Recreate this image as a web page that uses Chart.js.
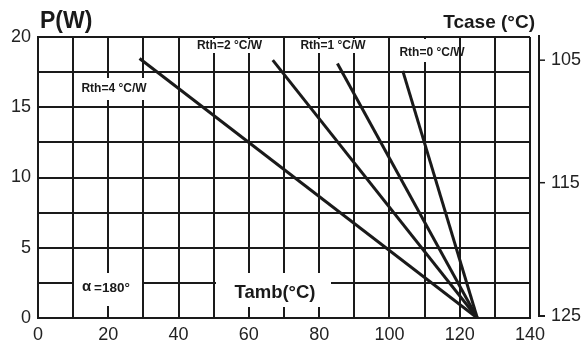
<!DOCTYPE html>
<html>
<head>
<meta charset="utf-8">
<script src="https://cdn.jsdelivr.net/npm/chart.js@4/dist/chart.umd.min.js"></script>
<style>
  html, body { margin: 0; padding: 0; background: #fff; }
  #wrap { width: 584px; height: 344px; position: relative; }
</style>
</head>
<body>
<div id="wrap"><canvas id="c" width="584" height="344"></canvas></div>
<script>
// ---- data ----
const seriesNames   = ['Rth=0 °C/W', 'Rth=1 °C/W', 'Rth=2 °C/W', 'Rth=4 °C/W'];
const startTamb     = [103.8, 85.2, 66.8, 28.9];   // °C
const startPower    = [17.59, 18.11, 18.35, 18.47]; // W
const endTamb       = [125, 125, 125, 125];
const endPower      = [0, 0, 0, 0];
const caseTickLabels = ['105', '115', '125'];
const caseTickPower  = [18.35, 9.63, 0.15];   // where the Tcase ticks sit on the power scale

const INK = '#1a1a1a';
const FONT = "'Liberation Sans', Arial, sans-serif";
Chart.defaults.font.family = FONT;
Chart.defaults.color = '#222';

const datasets = seriesNames.map((n, i) => ({
  label: n,
  data: [{ x: startTamb[i], y: startPower[i] }, { x: endTamb[i], y: endPower[i] }],
  borderColor: INK,
  borderWidth: 3,
  borderCapStyle: 'butt',
  pointRadius: 0,
  fill: false,
  tension: 0
}));

const notes = [
  { text: 'Rth=4 °C/W', box: [76, 78, 152, 100], cx: 114, cy: 89, size: 12 },
  { text: 'Rth=2 °C/W', box: [192, 39, 268, 53], cx: 229.5, cy: 46, size: 12 },
  { text: 'Rth=1 °C/W', box: [296, 39, 371, 53], cx: 333, cy: 46, size: 12 },
  { text: 'Rth=0 °C/W', box: [396, 39, 458, 62], cx: 432, cy: 53, size: 12 }
];

function noPad(s) { s.paddingTop = 0; s.paddingBottom = 0; s.paddingLeft = 0; s.paddingRight = 0; }

const decor = {
  id: 'decor',
  beforeDatasetsDraw(chart) {
    const ctx = chart.ctx;
    ctx.save();
    ctx.fillStyle = '#fff';
    notes.forEach(n => {
      const b = n.box;
      ctx.fillRect(b[0], b[1], b[2] - b[0], b[3] - b[1]);
    });
    ctx.fillRect(74, 273, 68, 33);
    ctx.fillRect(216, 273, 115, 34);

    ctx.fillStyle = INK;
    ctx.textBaseline = 'middle';
    ctx.textAlign = 'center';
    notes.forEach(n => {
      ctx.font = 'bold ' + n.size + 'px ' + FONT;
      ctx.fillText(n.text, n.cx, n.cy);
    });
    ctx.textAlign = 'left';
    ctx.font = 'bold 15px ' + FONT;
    ctx.fillText('α', 82, 287);
    ctx.font = 'bold 13.5px ' + FONT;
    ctx.fillText('=180°', 94, 288);
    ctx.textAlign = 'center';
    ctx.font = 'bold 18.5px ' + FONT;
    ctx.fillText('Tamb(°C)', 275, 293);
    ctx.restore();
  },
  afterDraw(chart) {
    const ctx = chart.ctx;
    const ca = chart.chartArea;
    const y2 = chart.scales.y2;
    ctx.save();
    ctx.fillStyle = INK;
    ctx.textBaseline = 'alphabetic';
    ctx.textAlign = 'left';
    ctx.font = 'bold 23px ' + FONT;
    ctx.fillText('P(W)', 40, 28);
    ctx.textAlign = 'right';
    ctx.font = 'bold 19px ' + FONT;
    ctx.fillText('Tcase (°C)', 535, 28);

    const ax = ca.right + 9;
    const yBot = y2.getPixelForValue(caseTickPower[caseTickPower.length - 1]);
    ctx.strokeStyle = INK;
    ctx.lineWidth = 2;
    ctx.beginPath();
    ctx.moveTo(ax, ca.top - 2);
    ctx.lineTo(ax, yBot);
    ctx.lineTo(ax + 6, yBot);
    ctx.stroke();
    ctx.lineWidth = 1.5;
    for (let i = 0; i < caseTickPower.length - 1; i++) {
      const py = y2.getPixelForValue(caseTickPower[i]);
      ctx.beginPath();
      ctx.moveTo(ax + 1, py);
      ctx.lineTo(ax + 6, py);
      ctx.stroke();
    }
    ctx.restore();
  }
};

new Chart(document.getElementById('c'), {
  type: 'line',
  data: { datasets },
  options: {
    responsive: false,
    animation: false,
    events: [],
    layout: { padding: { top: 37, left: 0, right: 0, bottom: 0 } },
    plugins: { legend: { display: false }, tooltip: { enabled: false }, title: { display: false } },
    scales: {
      x: {
        type: 'linear',
        min: 0, max: 140,
        afterFit(s) { s.height = 26; noPad(s); },
        ticks: {
          stepSize: 10,
          padding: 6,
          maxRotation: 0,
          autoSkip: false,
          font: { size: 18 },
          color: '#222',
          callback: v => (v % 20 === 0 ? String(v) : '')
        },
        grid: { color: INK, lineWidth: 2, drawTicks: false },
        border: { color: INK, width: 2 }
      },
      y: {
        type: 'linear',
        position: 'left',
        min: 0, max: 20,
        afterFit(s) { s.width = 38; noPad(s); },
        ticks: {
          stepSize: 2.5,
          padding: 7,
          autoSkip: false,
          font: { size: 18 },
          color: '#222',
          callback: v => (v % 5 === 0 ? String(v) : '')
        },
        grid: { color: INK, lineWidth: 2, drawTicks: false },
        border: { color: INK, width: 2 }
      },
      y2: {
        type: 'linear',
        position: 'right',
        min: 0, max: 20,
        afterFit(s) { s.width = 54; noPad(s); },
        afterBuildTicks(s) { s.ticks = caseTickPower.map(v => ({ value: v })); },
        ticks: {
          padding: 21,
          autoSkip: false,
          font: { size: 18 },
          color: '#222',
          callback: (v, i) => caseTickLabels[i]
        },
        grid: { display: false, drawTicks: false },
        border: { display: false }
      }
    }
  },
  plugins: [decor]
});
</script>
</body>
</html>
